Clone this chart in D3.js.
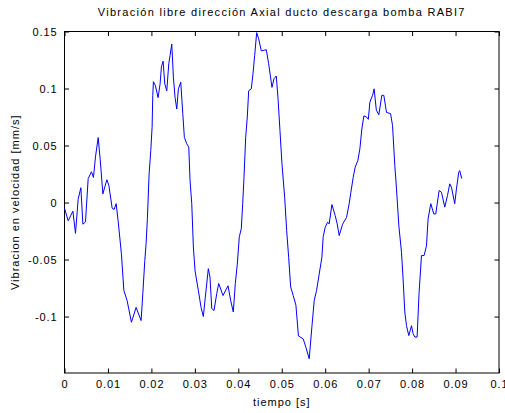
<!DOCTYPE html>
<html><head><meta charset="utf-8">
<script src="https://cdn.jsdelivr.net/npm/d3@7"></script>
<style>
html,body{margin:0;padding:0;background:#fff;}
text{font-family:"Liberation Sans",Arial,sans-serif;}
</style></head>
<body>
<script>
const title = "Vibración libre dirección Axial ducto descarga bomba RABI7";
const xLabel = "tiempo [s]";
const yLabel = "Vibracion en velocidad [mm/s]";
const xTicks = [0,0.01,0.02,0.03,0.04,0.05,0.06,0.07,0.08,0.09,0.1];
const xTickLabels = ["0","0.01","0.02","0.03","0.04","0.05","0.06","0.07","0.08","0.09","0.1"];
const yTicks = [0.15,0.1,0.05,0,-0.05,-0.1];
const yTickLabels = ["0.15","0.1","0.05","0","-0.05","-0.1"];

const time = [0,0.00085,0.00193,0.00253,0.00315,0.00377,0.00423,0.00483,0.00545,0.00621,0.00667,0.00713,0.00775,0.00821,0.00883,0.00975,0.01021,0.01097,0.01143,0.01189,0.01234,0.01310,0.01366,0.01441,0.01540,0.01648,0.01763,0.01802,0.01848,0.01878,0.01908,0.01947,0.01986,0.02016,0.02032,0.02046,0.02092,0.02154,0.02200,0.02230,0.02269,0.02308,0.02354,0.02400,0.02430,0.02469,0.02506,0.02545,0.02584,0.02621,0.02676,0.02722,0.02759,0.02814,0.02860,0.02890,0.02929,0.02966,0.03005,0.03080,0.03143,0.03195,0.03241,0.03310,0.03349,0.03389,0.03441,0.03503,0.03549,0.03648,0.03763,0.03825,0.03885,0.03931,0.03977,0.04023,0.04069,0.04101,0.04131,0.04170,0.04207,0.04239,0.04299,0.04338,0.04377,0.04423,0.04469,0.04529,0.04644,0.04699,0.04775,0.04821,0.04874,0.04913,0.04959,0.05005,0.05067,0.05113,0.05159,0.05205,0.05264,0.05326,0.05384,0.05494,0.05556,0.05632,0.05694,0.05747,0.05802,0.05862,0.05924,0.05954,0.06000,0.06055,0.06092,0.06154,0.06230,0.06276,0.06322,0.06400,0.06492,0.06552,0.06591,0.06644,0.06690,0.06752,0.06798,0.06844,0.06890,0.06952,0.06993,0.07028,0.07090,0.07126,0.07177,0.07234,0.07303,0.07349,0.07411,0.07504,0.07550,0.07602,0.07641,0.07694,0.07756,0.07793,0.07832,0.07871,0.07924,0.07986,0.08023,0.08062,0.08115,0.08161,0.08216,0.08276,0.08331,0.08368,0.08430,0.08499,0.08545,0.08621,0.08676,0.08752,0.08814,0.08867,0.08906,0.08981,0.09021,0.09073,0.09096,0.09142];
const velocity = [-0.005,-0.016,-0.0076,-0.027,0.003,0.013,-0.019,-0.017,0.021,0.027,0.022,0.040,0.057,0.038,0.0076,0.020,0.015,-0.005,-0.006,-0.001,-0.016,-0.045,-0.077,-0.086,-0.105,-0.092,-0.1035,-0.080,-0.051,-0.036,-0.014,0.025,0.0456,0.066,0.094,0.106,0.1026,0.092,0.104,0.119,0.124,0.104,0.098,0.1217,0.129,0.139,0.110,0.092,0.082,0.0997,0.1055,0.078,0.057,0.0515,0.0485,0.019,-0.001,-0.039,-0.060,-0.077,-0.092,-0.100,-0.083,-0.058,-0.0655,-0.093,-0.0947,-0.080,-0.071,-0.0816,-0.073,-0.086,-0.096,-0.071,-0.054,-0.030,-0.023,-0.001,0.022,0.057,0.075,0.098,0.0997,0.113,0.129,0.149,0.1436,0.133,0.134,0.1217,0.101,0.1085,0.111,0.092,0.063,0.034,0.0047,-0.0246,-0.048,-0.074,-0.0816,-0.090,-0.117,-0.1196,-0.127,-0.137,-0.109,-0.086,-0.077,-0.0626,-0.048,-0.030,-0.0217,-0.0173,-0.0187,-0.0018,-0.0114,-0.0187,-0.029,-0.019,-0.013,-0.001,0.009,0.022,0.031,0.037,0.047,0.0646,0.076,0.075,0.073,0.088,0.094,0.0997,0.081,0.077,0.094,0.094,0.079,0.078,0.0675,0.0325,0.012,-0.020,-0.0436,-0.067,-0.096,-0.108,-0.1167,-0.108,-0.115,-0.118,-0.118,-0.0787,-0.0465,-0.0465,-0.038,-0.0143,-0.001,-0.010,-0.010,0.0105,0.009,-0.004,0.006,0.0164,0.0134,-0.001,0.012,0.0266,0.028,0.021];

const W = 505, H = 413;
const m = {left:64.5, right:6, top:31.5, bottom:40};
const svg = d3.select("body").append("svg").attr("width",W).attr("height",H);
const x = d3.scaleLinear().domain([0,0.1]).range([m.left, W-m.right]);
const y = d3.scaleLinear().domain([-0.1495,0.15]).range([H-m.bottom, m.top]);
const pw = W-m.right-m.left, ph = H-m.bottom-m.top;

svg.append("rect").attr("x",m.left).attr("y",m.top).attr("width",pw).attr("height",ph)
  .attr("fill","#fff").attr("stroke","#000").attr("stroke-width",1);

const tl = 4.5;
const fmtX = (d,i)=>xTickLabels[i];
const fmtY = (d,i)=>yTickLabels[i];
function style(g){ g.select(".domain").remove(); g.selectAll("line").attr("stroke","#000");
  g.selectAll("text").attr("font-size",11).attr("letter-spacing","0.9px").attr("fill","#000"); }

svg.append("g").attr("transform",`translate(0,${H-m.bottom})`)
  .call(d3.axisBottom(x).tickValues(xTicks).tickFormat(fmtX).tickSizeInner(-tl).tickPadding(7)).call(style);
svg.append("g").attr("transform",`translate(0,${m.top})`)
  .call(d3.axisTop(x).tickValues(xTicks).tickFormat("").tickSizeInner(-tl)).call(style);
svg.append("g").attr("transform",`translate(${m.left},0)`)
  .call(d3.axisLeft(y).tickValues(yTicks).tickFormat(fmtY).tickSizeInner(-tl).tickPadding(7)).call(style);
svg.append("g").attr("transform",`translate(${W-m.right},0)`)
  .call(d3.axisRight(y).tickValues(yTicks).tickFormat("").tickSizeInner(-tl)).call(style);

const line = d3.line().x((d,i)=>x(time[i])).y(d=>y(d));
svg.append("path").datum(velocity).attr("d",line).attr("fill","none")
  .attr("stroke","#0000ff").attr("stroke-width",1);

svg.append("text").attr("x",(m.left+W-m.right)/2).attr("y",16).attr("text-anchor","middle")
  .attr("font-size",11).attr("letter-spacing","1.3px").text(title);
svg.append("text").attr("x",(m.left+W-m.right)/2).attr("y",406).attr("text-anchor","middle")
  .attr("font-size",11).attr("letter-spacing","1px").text(xLabel);
svg.append("text").attr("transform",`translate(19,${(m.top+H-m.bottom)/2}) rotate(-90)`)
  .attr("text-anchor","middle").attr("font-size",11).attr("letter-spacing","1px").text(yLabel);
</script>
</body></html>
